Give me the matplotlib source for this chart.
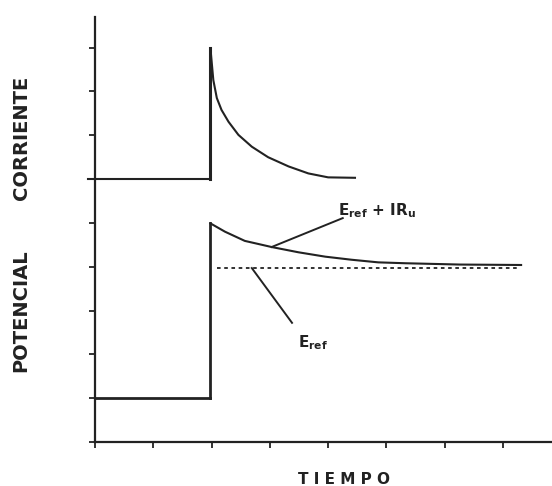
import matplotlib
matplotlib.use("Agg")
import matplotlib.pyplot as plt

# Data (in axis tick units)
x_ticks = [0, 1, 2, 3, 4, 5, 6, 7]
y_ticks = [0, 1, 2, 3, 4, 5, 6, 7, 8, 9]

# Current trace
cur_base_x = [-0.12, 1.98]
cur_base_y = [6.0, 6.0]
cur_step_x = [1.98, 1.98]
cur_step_y = [6.0, 8.99]
cur_decay_x = [1.98, 2.03, 2.09, 2.17, 2.29, 2.46, 2.69, 2.97, 3.32, 3.66, 4.00, 4.46]
cur_decay_y = [8.99, 8.26, 7.85, 7.58, 7.31, 7.01, 6.74, 6.50, 6.29, 6.13, 6.04, 6.03]

# Potential trace
pot_base_x = [0.0, 1.98]
pot_base_y = [1.0, 1.0]
pot_step_x = [1.98, 1.98]
pot_step_y = [1.0, 4.99]
pot_decay_x = [1.98, 2.23, 2.57, 3.03, 3.49, 3.95, 4.40, 4.86, 5.32, 6.26, 7.31]
pot_decay_y = [4.99, 4.80, 4.59, 4.45, 4.33, 4.23, 4.16, 4.10, 4.08, 4.05, 4.04]

# Reference potential (dotted)
eref_x = [2.09, 7.24]
eref_y = [3.97, 3.97]

# Annotation leader lines
lead1_x = [3.03, 4.25]
lead1_y = [4.45, 5.11]
lead2_x = [2.69, 3.38]
lead2_y = [3.97, 2.72]

W, H = 552, 486
fig = plt.figure(figsize=(W / 100, H / 100), dpi=100)
ax = fig.add_axes([95 / W, (H - 442) / H, (W - 95) / W, (442 - 17) / H])
ax.set_xlim(0, 7.84)
ax.set_ylim(0, 9.7)

k = "#222222"
for s in ["top", "right"]:
    ax.spines[s].set_visible(False)
for s in ["left", "bottom"]:
    ax.spines[s].set_linewidth(1.6)
    ax.spines[s].set_color(k)

ax.set_xticks(x_ticks)
ax.set_yticks(y_ticks)
ax.tick_params(direction="out", length=4, width=1.3, colors=k,
               labelleft=False, labelbottom=False)

lw = 1.5
ax.plot(cur_base_x, cur_base_y, color=k, lw=lw, clip_on=False)
ax.plot(cur_step_x, cur_step_y, color=k, lw=2.2)
ax.plot(cur_decay_x, cur_decay_y, color=k, lw=lw)

ax.plot(pot_base_x, pot_base_y, color=k, lw=2.0)
ax.plot(pot_step_x, pot_step_y, color=k, lw=2.0)
ax.plot(pot_decay_x, pot_decay_y, color=k, lw=lw)

ax.plot(eref_x, eref_y, color=k, lw=1.3, linestyle=(0, (2, 2)))

ax.plot(lead1_x, lead1_y, color=k, lw=1.4)
ax.plot(lead2_x, lead2_y, color=k, lw=1.4)

plt.rcParams["mathtext.default"] = "bf"
fig.text(338 / W, 1 - 211 / H, r"E$_{ref}$ + IR$_{u}$", fontsize=11,
         fontweight="bold", color=k, ha="left", va="center")
fig.text(298 / W, 1 - 343 / H, r"E$_{ref}$", fontsize=11,
         fontweight="bold", color=k, ha="left", va="center")

lab = dict(fontsize=14, fontweight="bold", color=k, rotation=90,
           ha="center", va="center")
fig.text(22 / W, 1 - 138 / H, "CORRIENTE", **lab)
fig.text(21 / W, 1 - 311 / H, "POTENCIAL", **lab)
fig.text(344 / W, 1 - 479 / H, "T I E M P O", fontsize=11, fontweight="bold",
         color=k, ha="center", va="center")

fig.savefig("out.png", dpi=100, facecolor="white")
